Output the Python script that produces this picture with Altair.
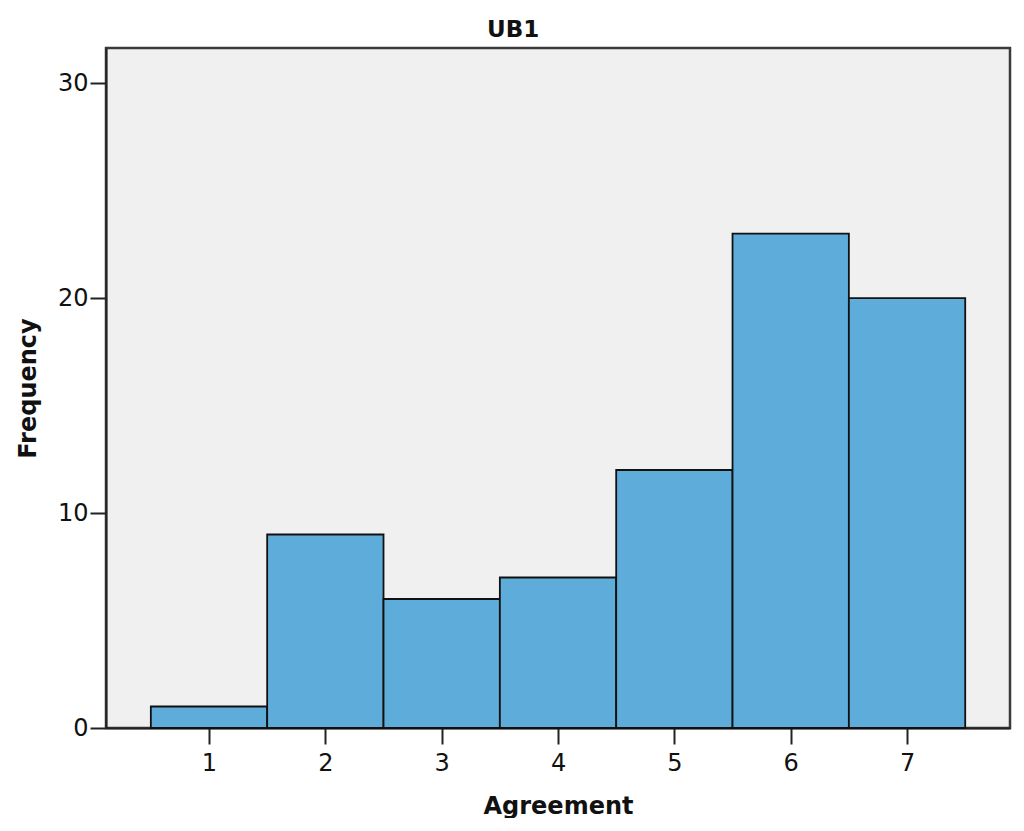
import altair as alt
import pandas as pd

categories = [1, 2, 3, 4, 5, 6, 7]
counts = [1, 9, 6, 7, 12, 23, 20]
x_ticks = [1, 2, 3, 4, 5, 6, 7]
y_ticks = [0, 10, 20, 30]

df = pd.DataFrame({"Agreement": categories, "Frequency": counts})

FONT = "DejaVu Sans"

chart = (
    alt.Chart(df)
    .transform_calculate(lo="datum.Agreement - 0.5", hi="datum.Agreement + 0.5")
    .mark_bar(fill="#5EACD9", stroke="#111111", strokeWidth=1.8)
    .encode(
        x=alt.X(
            "lo:Q",
            scale=alt.Scale(domain=[0.1146, 7.885], nice=False, zero=False),
            axis=alt.Axis(
                values=x_ticks,
                title="Agreement",
                grid=False,
                format="d",
                tickSize=16,
                tickWidth=2,
                tickColor="#222222",
                labelPadding=7,
                labelFontSize=24,
                labelFont=FONT,
                labelColor="#111111",
                titleFont=FONT,
                titleFontSize=24,
                titleFontWeight="bold",
                titleColor="#111111",
                titlePadding=19,
                domainColor="#222222",
                domainWidth=2,
            ),
        ),
        x2="hi:Q",
        y=alt.Y(
            "Frequency:Q",
            scale=alt.Scale(domain=[0, 31.63], nice=False),
            axis=alt.Axis(
                values=y_ticks,
                title="Frequency",
                grid=False,
                tickSize=16,
                tickWidth=2,
                tickColor="#222222",
                labelPadding=2,
                labelFontSize=24,
                labelFont=FONT,
                labelColor="#111111",
                titleFont=FONT,
                titleFontSize=24,
                titleFontWeight="bold",
                titleColor="#111111",
                titlePadding=17,
                domainColor="#222222",
                domainWidth=2,
            ),
        ),
        y2=alt.datum(0),
    )
    .properties(
        width=904,
        height=680,
        title=alt.TitleParams(
            "UB1",
            font=FONT,
            fontSize=23,
            fontWeight="bold",
            color="#111111",
            offset=6,
            anchor="middle",
            frame="bounds",
        ),
        autosize="none",
        padding={"left": 98, "top": 40, "right": 6, "bottom": 90},
        background="white",
    )
    .configure_view(fill="#F0F0F0", stroke="#3A3A3A", strokeWidth=2.5)
)

chart.save("out.html", embed_options={"renderer": "svg", "actions": False})
